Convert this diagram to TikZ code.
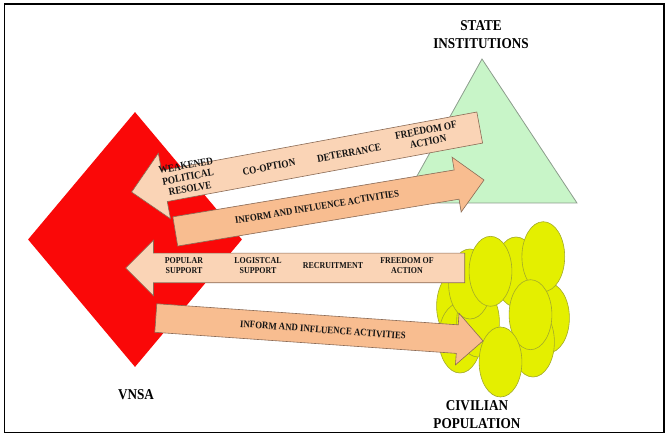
\documentclass[tikz,border=0pt]{standalone}
\usepackage{fontspec}
\setmainfont{Liberation Serif}[FakeStretch=0.88]
\usetikzlibrary{shapes.arrows,shapes.geometric}

\definecolor{vnsared}{HTML}{FA0808}
\definecolor{stategreen}{HTML}{C8F5C8}
\definecolor{stateedge}{HTML}{8C9C8C}
\definecolor{crowdyellow}{HTML}{E4EF00}
\definecolor{crowdedge}{HTML}{A3AA2A}
\definecolor{flowlight}{HTML}{FAD4B6}
\definecolor{flowdark}{HTML}{F8BD90}
\definecolor{flowedge}{HTML}{8A6A55}
\definecolor{labelink}{HTML}{141414}

\begin{document}
\begin{tikzpicture}[x=1pt,y=1pt,
  bigarrow/.style={single arrow, draw=flowedge, line width=0.6pt, inner xsep=0pt, anchor=tail},
  person/.style={draw=crowdedge, line width=0.6pt, fill=crowdyellow},
  flowtext/.style={text=labelink, font=\bfseries\fontsize{10.5}{11.7}\selectfont, align=center},
  smalltext/.style={text=labelink, font=\bfseries\fontsize{9}{10}\selectfont, align=center},
  title/.style={font=\bfseries\fontsize{15}{18}\selectfont, align=center}]

  \useasboundingbox (0,0) rectangle (667,434);

  % --- frame ---
  \draw[line width=1.6pt] (4.3,1.5) rectangle (664,430);

  % --- the three actors ---
  \node[diamond, fill=vnsared, minimum width=214pt, minimum height=255pt, inner sep=0pt] (vnsa) at (135,194.5) {};
  \draw[fill=stategreen, draw=stateedge, line width=0.8pt] (402,231) -- (482,375) -- (577,231) -- cycle;

  % crowd of civilians, back to front
  \foreach \x/\y in {458/128, 460/96, 478/112, 470/150, 516/162, 548/116, 533/92, 543.3/177.3, 490.5/162.7, 530.5/119.3, 500.5/72}
    \draw[person] (\x,\y) ellipse [x radius=21.4, y radius=35];

  % --- flows between them ---
  \node[bigarrow, fill=flowlight, rotate=190.5, minimum height=354pt, inner ysep=15.5pt, single arrow head extend=17.5pt] (resolve) at (480,306.5) {};
  \node[bigarrow, fill=flowdark, rotate=9.46, minimum height=313pt, inner ysep=14.5pt, single arrow head extend=13pt] (infostate) at (175,202.5) {};
  \node[bigarrow, fill=flowlight, rotate=180, minimum height=339pt, inner ysep=14.5pt, single arrow head extend=13pt] (support) at (465,166) {};
  \node[bigarrow, fill=flowdark, rotate=-4, minimum height=328pt, inner ysep=14pt, single arrow head extend=11.5pt] (infocrowd) at (155.5,116) {};

  % --- labels on the flows ---
  \node[flowtext, rotate=10.5] (weak) at (188,257) {WEAKENED\\POLITICAL\\RESOLVE};
  \node[flowtext, rotate=10.5] (coopt) at (269,267) {CO-OPTION};
  \node[flowtext, rotate=10.5] (deter) at (349,281) {DETERRANCE};
  \node[flowtext, rotate=10.5] (freestate) at (427,298) {FREEDOM OF\\ACTION};
  \node[flowtext, rotate=9.5, font=\bfseries\fontsize{10}{10}\selectfont] (iia1) at (317,227) {INFORM AND INFLUENCE ACTIVITIES};
  \node[smalltext] (popular) at (184,168) {POPULAR\\SUPPORT};
  \node[smalltext] (logist) at (258,168) {LOGISTCAL\\SUPPORT};
  \node[smalltext] (recruit) at (333,168) {RECRUITMENT};
  \node[smalltext] (freecrowd) at (407,168) {FREEDOM OF\\ACTION};
  \node[flowtext, rotate=-4.2, font=\bfseries\fontsize{10}{10}\selectfont] (iia2) at (323,104) {INFORM AND INFLUENCE ACTIVITIES};

  % --- names ---
  \node[title] (statename) at (481,399) {STATE\\INSTITUTIONS};
  \node[title] (vnsaname) at (136,39) {VNSA};
  \node[title] (crowdname) at (477,19) {CIVILIAN\\POPULATION};

\end{tikzpicture}
\end{document}
